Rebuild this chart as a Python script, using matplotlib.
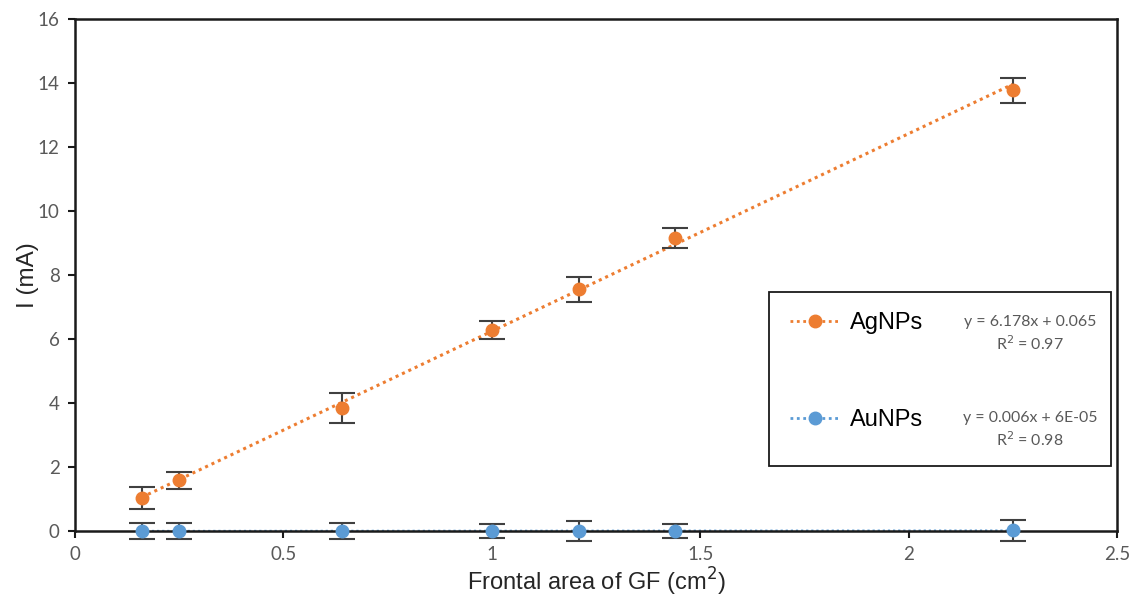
import matplotlib.pyplot as plt
from matplotlib.lines import Line2D
from matplotlib.patches import Rectangle
import numpy as np

# frontal area of the graphite felt (cm^2)
area = [0.16, 0.25, 0.64, 1.0, 1.21, 1.44, 2.25]

# measured current (mA) and error
ag_current = [1.04, 1.59, 3.85, 6.28, 7.55, 9.17, 13.78]
ag_err = [0.34, 0.27, 0.47, 0.29, 0.39, 0.31, 0.39]
au_current = [0.0, 0.0, 0.0, 0.0, 0.0, 0.0, 0.02]
au_err = [0.25, 0.25, 0.24, 0.22, 0.30, 0.22, 0.33]

# linear fits
ag_fit = (6.178, 0.065)
au_fit = (0.006, 6e-05)

ORANGE = "#ED7D31"
BLUE = "#5B9BD5"
GREY = "#595959"

plt.rcParams['font.family'] = ['Liberation Sans', 'DejaVu Sans']

fig = plt.figure(figsize=(11.31, 5.99), dpi=100)
ax = fig.add_axes([0.0663, 0.1135, 0.9213, 0.8545])

x_fit = np.array([area[0], area[-1]])
ax.plot(x_fit, ag_fit[0] * x_fit + ag_fit[1], color=ORANGE, lw=2.2, ls=(0, (1, 1.3)), zorder=2)
ax.plot(x_fit, au_fit[0] * x_fit + au_fit[1], color=BLUE, lw=1.6, ls=(0, (1, 1.3)), zorder=2)

for y, err, col in [(ag_current, ag_err, ORANGE), (au_current, au_err, BLUE)]:
    eb = ax.errorbar(area, y, yerr=err, fmt='none', ecolor="#404040", elinewidth=1.5,
                     capsize=9.5, capthick=1.5, zorder=3)
    for art in eb.get_children():
        art.set_clip_on(False)
    ax.plot(area, y, 'o', color=col, ms=9, zorder=4, clip_on=False)

ax.set_xlim(0, 2.5)
ax.set_ylim(0, 16)
ax.set_xticks([0, 0.5, 1, 1.5, 2, 2.5])
ax.set_xticklabels(["0", "0.5", "1", "1.5", "2", "2.5"])
ax.set_yticks(range(0, 17, 2))
for s in ax.spines.values():
    s.set_linewidth(1.8)
    s.set_color("#1a1a1a")
ax.tick_params(length=5, width=1.5, color="#1a1a1a", labelcolor=GREY, labelsize=13.5, pad=6)
for lab in ax.get_xticklabels() + ax.get_yticklabels():
    lab.set_family('Lato')

ax.set_xlabel("Frontal area of GF (cm$^2$)", fontsize=17, color="#262626", labelpad=2)
ax.set_ylabel("I (mA)", fontsize=17.5, color="#262626", labelpad=-1)

# legend box with fit equations
ax.add_patch(Rectangle((0.666, 0.127), 0.328, 0.340, transform=ax.transAxes,
                       fill=False, edgecolor="#1a1a1a", lw=1.3, zorder=5))
handles = [Line2D([], [], color=ORANGE, ls=(0, (1, 1.3)), lw=2, marker='o', ms=9),
           Line2D([], [], color=BLUE, ls=(0, (1, 1.3)), lw=2, marker='o', ms=9)]
ax.legend(handles, ["AgNPs", "AuNPs"], loc='upper left', bbox_to_anchor=(0.686, 0.427),
          frameon=False, fontsize=17, labelspacing=3.15, handlelength=2.1,
          handletextpad=0.45, borderpad=0, borderaxespad=0)

eqs = [("y = 6.178x + 0.065", "R$^2$ = 0.97", 0.409), ("y = 0.006x + 6E-05", "R$^2$ = 0.98", 0.221)]
for eq, r2, yy in eqs:
    ax.text(0.9165, yy, eq, transform=ax.transAxes, ha='center', va='center',
            fontsize=11.4, color=GREY, family='Lato')
    ax.text(0.9165, yy - 0.042, r2, transform=ax.transAxes, ha='center', va='center',
            fontsize=11.4, color=GREY, family='Lato')

fig.savefig("out.png", dpi=100)
